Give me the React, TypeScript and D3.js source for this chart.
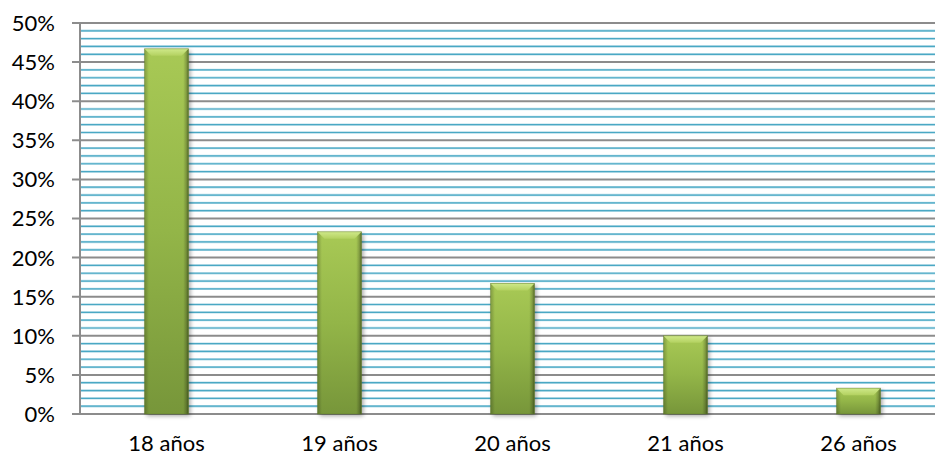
import React from "react";
import * as d3 from "d3";

const categories = ["18 años", "19 años", "20 años", "21 años", "26 años"];
const values = [0.467, 0.233, 0.167, 0.1, 0.033];
const yTicks = [0, 0.05, 0.1, 0.15, 0.2, 0.25, 0.3, 0.35, 0.4, 0.45, 0.5];

const W = 935;
const H = 459;
const left = 80;
const right = 945;
const top = 23;
const bottom = 414;
const font = "Lato, 'Open Sans', sans-serif";

export default function App() {
  const x = d3
    .scaleBand<string>()
    .domain(categories)
    .range([left, right])
    .paddingInner(0.746)
    .paddingOuter(0.373);
  const y = d3.scaleLinear().domain([0, 0.5]).range([bottom, top]);
  const minor = d3.range(0, 51).map((d) => d / 100).filter((_, i) => i % 5 !== 0);
  const fmt = d3.format(".0%");
  const bw = x.bandwidth();
  const bevel = 7;

  return (
    <svg width={W} height={H} style={{ position: "absolute", left: 0, top: 0 }}>
      <defs>
        <linearGradient id="barV" x1="0" y1="0" x2="0" y2="1">
          <stop offset="0" stopColor="#a8c955" />
          <stop offset="0.5" stopColor="#93b548" />
          <stop offset="1" stopColor="#77963a" />
        </linearGradient>
        <linearGradient id="barH" x1="0" y1="0" x2="1" y2="0">
          <stop offset="0" stopColor="#000" stopOpacity="0.22" />
          <stop offset="0.1" stopColor="#000" stopOpacity="0" />
          <stop offset="0.88" stopColor="#000" stopOpacity="0" />
          <stop offset="0.95" stopColor="#000" stopOpacity="0.2" />
          <stop offset="1" stopColor="#1f2a0a" stopOpacity="0.55" />
        </linearGradient>
        <linearGradient id="bevelTop" x1="0" y1="0" x2="0" y2="1">
          <stop offset="0" stopColor="#cfe98a" />
          <stop offset="1" stopColor="#b3d160" />
        </linearGradient>
        <filter id="shadow" x="-30%" y="-10%" width="160%" height="130%">
          <feGaussianBlur stdDeviation="2" />
        </filter>
      </defs>
      <rect width={W} height={H} fill="#fff" />
      {minor.map((d) => (
        <g key={"m" + d}>
          <line x1={left} x2={right} y1={y(d)} y2={y(d)} stroke="#b7dde9" strokeWidth={2.4} />
          <line x1={left} x2={right} y1={y(d)} y2={y(d)} stroke="#4aa8c4" strokeWidth={1.2} />
        </g>
      ))}
      {yTicks.map((d) => (
        <g key={"t" + d}>
          <line x1={left - 8} x2={right} y1={y(d)} y2={y(d)} stroke="#8c8c8c" strokeWidth={2} />
          <text
            x={55}
            y={y(d)}
            dy="0.36em"
            textAnchor="end"
            fontFamily={font}
            fontSize={22}
            fill="#000"
          >
            {fmt(d)}
          </text>
        </g>
      ))}
      <line x1={left} x2={left} y1={top} y2={bottom + 1} stroke="#8c8c8c" strokeWidth={2} />
      {categories.map((c, i) => {
        const bx = x(c)!;
        const by = y(values[i]);
        const bh = bottom - by;
        return (
          <g key={c}>
            <rect x={bx + 2} y={by + 2} width={bw} height={bh} fill="#000" opacity={0.35} filter="url(#shadow)" />
            <rect x={bx} y={by} width={bw} height={bh} fill="url(#barV)" />
            <rect x={bx} y={by} width={bw} height={bh} fill="url(#barH)" />
            <polygon
              points={`${bx},${by} ${bx + bw},${by} ${bx + bw - bevel},${by + bevel} ${bx + bevel},${by + bevel}`}
              fill="url(#bevelTop)"
            />
            <rect x={bx} y={by} width={bw} height={bh} fill="none" stroke="#5c7a25" strokeOpacity={0.5} strokeWidth={0.8} />
            <text
              x={bx + bw / 2}
              y={451}
              textAnchor="middle"
              fontFamily={font}
              fontSize={22}
              fill="#000"
            >
              {c}
            </text>
          </g>
        );
      })}
    </svg>
  );
}
